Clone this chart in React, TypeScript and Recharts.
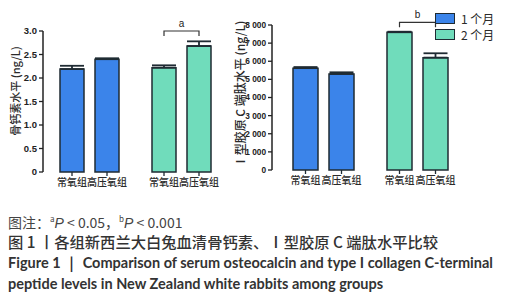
import React from "react";
import { BarChart, Bar, XAxis, YAxis, ErrorBar, Cell, LabelList } from "recharts";

// groups under each bar, and the two time points (colour per time point)
const groups = ["常氧组", "高压氧组"];
const months = ["1 个月", "2 个月"];
const monthColors = ["#3b84ea", "#70dcbb"];
const edge = "#1f2b33";

// osteocalcin (ng/L)
const ocNormoxia = [2.19, 2.22];
const ocHbo = [2.4, 2.68];
const ocNormoxiaErr = [0.07, 0.05];
const ocHboErr = [0.02, 0.1];
const ocTicks = [0, 0.5, 1, 1.5, 2, 2.5, 3];

// type I collagen C-terminal peptide (ng/L)
const ctxNormoxia = [5620, 7600];
const ctxHbo = [5300, 6200];
const ctxNormoxiaErr = [60, 30];
const ctxHboErr = [90, 240];
const ctxTicks = [0, 1000, 2000, 3000, 4000, 5000, 6000, 7000, 8000];

const BAR_GAP = 11;
const CJK = "'Noto Sans CJK SC', sans-serif";
const TICK_FONT = "'Liberation Sans', Arial, sans-serif";

interface PanelProps {
  normoxia: number[];
  hbo: number[];
  normoxiaErr: number[];
  hboErr: number[];
  ticks: number[];
  format: (v: number) => string;
  tickSize: number;
  yLabel: string;
  labelX: number;
  labelY: number;
  labelSize: number;
  bracketLevel: number;
  bracketText: string;
  width: number;
  margin: { top: number; right: number; left: number; bottom: number };
  yWidth: number;
  padLeft: number;
  barSize: number;
  axisLen: number;
}

function groupLabel(name: string) {
  return (p: any) => {
    const vb = p.viewBox ?? p;
    const cx = vb.x + vb.width / 2;
    const base = vb.y + vb.height;
    return (
      <g>
        <line x1={cx} x2={cx} y1={base} y2={base + 4} stroke={edge} strokeWidth={1.3} />
        <text x={cx} y={base + 14} textAnchor="middle" fontSize={10} fontWeight={500} fontFamily={CJK} fill="#2a2a2a">
          {name}
        </text>
      </g>
    );
  };
}

function Panel(props: PanelProps) {
  const { normoxia, hbo, normoxiaErr, hboErr } = props;
  const rows = months.map((m, i) => ({
    month: m,
    normoxia: normoxia[i],
    hbo: hbo[i],
    nErr: [0, normoxiaErr[i]],
    hErr: [0, hboErr[i]],
  }));

  const hboLabel = (p: any) => {
    const vb = p.viewBox ?? p;
    const idx = p.index;
    const base = vb.y + vb.height;
    const cx = vb.x + vb.width / 2;
    const tickPart = groupLabel(groups[1])(p);
    if (idx !== 1) return tickPart;
    // bracket between the two bars of the second time point
    const ppu = vb.height / hbo[idx];
    const yb = base - props.bracketLevel * ppu;
    const x1 = cx - (vb.width + BAR_GAP);
    return (
      <g>
        {tickPart}
        <path d={`M${x1},${yb + 5}V${yb}H${cx}V${yb + 5}`} fill="none" stroke="#333" strokeWidth={1.2} />
        <text x={(x1 + cx) / 2} y={yb - 4} textAnchor="middle" fontSize={10} fontFamily={TICK_FONT} fill="#222">
          {props.bracketText}
        </text>
      </g>
    );
  };

  return (
    <BarChart width={props.width} height={200} data={rows} margin={props.margin} barGap={BAR_GAP}>
      <XAxis
        dataKey="month"
        tick={false}
        tickLine={false}
        height={0}
        padding={{ left: props.padLeft, right: 0 }}
        axisLine={{ stroke: "#222", strokeWidth: 1.5, strokeDasharray: `${props.axisLen} 1000` }}
      />
      <YAxis
        width={props.yWidth}
        domain={[0, props.ticks[props.ticks.length - 1]]}
        ticks={props.ticks}
        tickFormatter={props.format}
        tickSize={4}
        tickLine={{ stroke: "#222", strokeWidth: 1.3 }}
        axisLine={{ stroke: "#222", strokeWidth: 1.5 }}
        tick={{ fontSize: props.tickSize, fontWeight: 700, fill: "#222", fontFamily: TICK_FONT }}
        label={{
          content: (p: any) => {
            const vb = p.viewBox;
            const cx = vb.x + props.labelX;
            return (
              <text
                transform={`translate(${cx},${props.labelY}) rotate(-90)`}
                textAnchor="middle"
                dominantBaseline="central"
                fontSize={props.labelSize}
                fontWeight={500}
                fontFamily={CJK}
                fill="#2a2a2a"
              >
                {props.yLabel}
              </text>
            );
          },
        }}
      />
      <Bar dataKey="normoxia" barSize={props.barSize} stroke={edge} strokeWidth={1.5} isAnimationActive={false}>
        {rows.map((r, i) => (
          <Cell key={r.month} fill={monthColors[i]} />
        ))}
        <ErrorBar dataKey="nErr" direction="y" width={12} stroke={edge} strokeWidth={1.8} />
        <LabelList dataKey="normoxia" content={groupLabel(groups[0])} />
      </Bar>
      <Bar dataKey="hbo" barSize={props.barSize} stroke={edge} strokeWidth={1.5} isAnimationActive={false}>
        {rows.map((r, i) => (
          <Cell key={r.month} fill={monthColors[i]} />
        ))}
        <ErrorBar dataKey="hErr" direction="y" width={12} stroke={edge} strokeWidth={1.8} />
        <LabelList dataKey="hbo" content={hboLabel} />
      </Bar>
    </BarChart>
  );
}

const fmtOc = (v: number) => (v === 0 ? "0" : v.toFixed(1));
const fmtCtx = (v: number) =>
  v === 0 ? "0" : `${Math.floor(v / 1000)} ${String(v % 1000).padStart(3, "0")}`;

const italicP = { fontFamily: "'Liberation Sans', sans-serif", fontStyle: "italic" as const };

export default function App() {
  return (
    <div style={{ position: "absolute", left: 0, top: 0, width: 505, height: 300, background: "#fff", overflow: "hidden" }}>
      <div style={{ position: "absolute", left: 0, top: 0 }}>
        <Panel
          normoxia={ocNormoxia}
          hbo={ocHbo}
          normoxiaErr={ocNormoxiaErr}
          hboErr={ocHboErr}
          ticks={ocTicks}
          format={fmtOc}
          tickSize={9.5}
          yLabel="骨钙素水平 (ng/L)"
          labelX={15}
          labelY={91}
          labelSize={11}
          bracketLevel={3.0}
          bracketText="a"
          width={235}
          margin={{ top: 31, right: 8, left: 0, bottom: 28 }}
          yWidth={43}
          padLeft={0}
          barSize={24}
          axisLen={170}
        />
      </div>
      <div style={{ position: "absolute", left: 230, top: 0 }}>
        <Panel
          normoxia={ctxNormoxia}
          hbo={ctxHbo}
          normoxiaErr={ctxNormoxiaErr}
          hboErr={ctxHboErr}
          ticks={ctxTicks}
          format={fmtCtx}
          tickSize={8.3}
          yLabel="Ⅰ型胶原 C 端肽水平 (ng/L)"
          labelX={9}
          labelY={94}
          labelSize={12}
          bracketLevel={8150}
          bracketText="b"
          width={275}
          margin={{ top: 25, right: 41, left: 0, bottom: 30 }}
          yWidth={42}
          padLeft={4}
          barSize={25}
          axisLen={178}
        />
      </div>
      {/* legend */}
      <div style={{ position: "absolute", left: 435, top: 10, fontFamily: CJK, fontSize: 12, color: "#2a2a2a" }}>
        {months.map((m, i) => (
          <div key={m} style={{ display: "flex", alignItems: "center", height: 16 }}>
            <span
              style={{
                display: "inline-block",
                width: 18,
                height: 9,
                background: monthColors[i],
                border: `1.5px solid ${edge}`,
                marginRight: 6,
              }}
            />
            {m}
          </div>
        ))}
      </div>
      {/* caption */}
      <div style={{ position: "absolute", left: 8, top: 209, fontFamily: CJK, fontSize: 14, color: "#444", lineHeight: "20px", whiteSpace: "nowrap" }}>
        图注：<sup style={{ fontSize: 8 }}>a</sup>
        <span style={italicP}>P</span> &lt; 0.05，<sup style={{ fontSize: 8 }}>b</sup>
        <span style={italicP}>P</span> &lt; 0.001
      </div>
      <div style={{ position: "absolute", left: 8, top: 230, fontFamily: CJK, fontSize: 15.3, fontWeight: 500, color: "#333", lineHeight: "22px", whiteSpace: "nowrap" }}>
        图 1 丨各组新西兰大白兔血清骨钙素、Ⅰ型胶原 C 端肽水平比较
      </div>
      <div style={{ position: "absolute", left: 8, top: 253, fontFamily: "Lato, sans-serif", fontSize: 14.5, fontWeight: 700, color: "#333", lineHeight: "20px", whiteSpace: "nowrap" }}>
        Figure 1 ｜ Comparison of serum osteocalcin and type I collagen C-terminal
      </div>
      <div style={{ position: "absolute", left: 8, top: 274, fontFamily: "Lato, sans-serif", fontSize: 14.5, fontWeight: 700, color: "#333", lineHeight: "20px", whiteSpace: "nowrap" }}>
        peptide levels in New Zealand white rabbits among groups
      </div>
    </div>
  );
}
